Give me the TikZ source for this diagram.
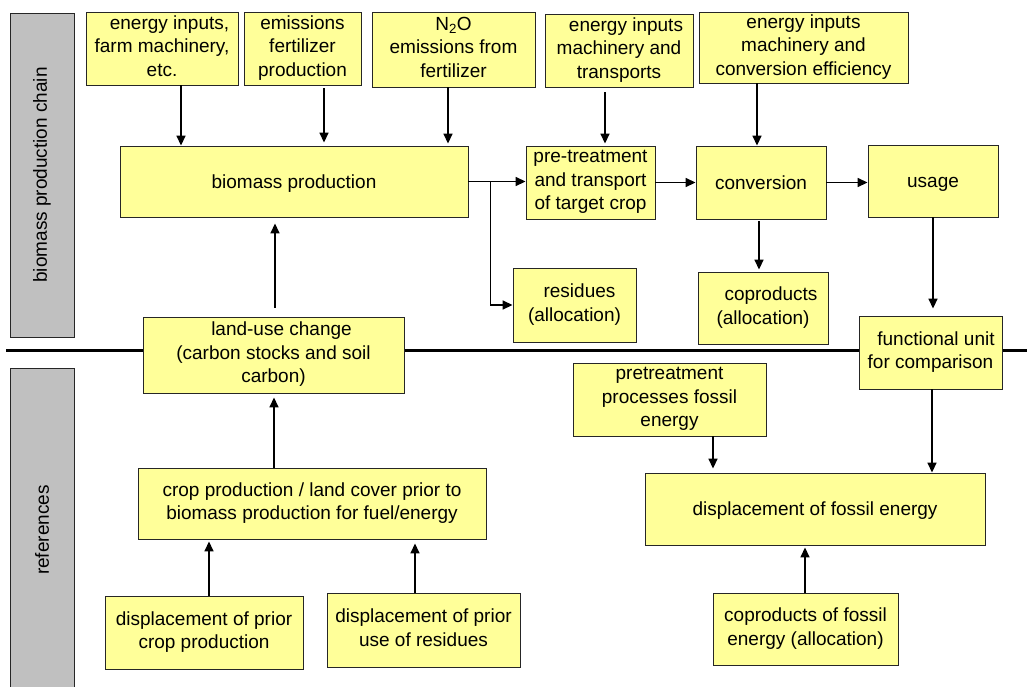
\documentclass[tikz,border=0pt]{standalone}
\usepackage{fontspec}
\setmainfont{Liberation Sans}
\usetikzlibrary{arrows.meta}
\definecolor{boxyellow}{HTML}{FFFF99}
\definecolor{bargray}{HTML}{C0C0C0}
\newcommand{\fs}{\fontsize{19}{23.5}\selectfont}
\newcommand{\mystrut}{\rule[-5pt]{0pt}{23pt}}
\tikzset{
  box/.style={draw=black!85, fill=boxyellow, line width=0.9pt, inner sep=0pt, align=center, font=\fs,
    execute at begin node=\mystrut, execute at end node=\mystrut},
  bar/.style={draw=black!85, fill=bargray, line width=0.9pt},
  bartext/.style={rotate=90, font=\fs, inner sep=0pt},
  arr/.style={line width=1.6pt, -{Triangle[length=10pt,width=9pt]}},
  sep/.style={line width=3pt}
}
\begin{document}
\begin{tikzpicture}[x=1pt,y=-1pt]
\useasboundingbox (0,0) rectangle (1027,686);
% separator line
\draw[sep] (6,350) -- (1027,350);
% gray side bars
\draw[bar] (10,13) rectangle (74,337);
\draw[bar] (10,368) rectangle (74,692);
\node[bartext] (lab1) at (42,175) {biomass production chain};
\node[bartext] (lab2) at (42,530) {references};
% boxes
\node[box, minimum width=152pt, minimum height=73pt] (ei) at (162,48.5) {\hspace*{15pt}energy inputs,\\farm machinery,\\etc.};
\node[box, minimum width=117pt, minimum height=73pt] (em) at (302.5,48.5) {emissions\\fertilizer\\production};
\node[box, minimum width=163pt, minimum height=75pt] (n2o) at (453.5,49.5) {N\textsubscript{2}O\\emissions from\\fertilizer};
\node[box, minimum width=148pt, minimum height=73pt] (tr) at (619,50.5) {\hspace*{14pt}energy inputs\\machinery and\\transports};
\node[box, minimum width=209pt, minimum height=71pt] (eff) at (803.5,47.5) {energy inputs\\machinery and\\conversion efficiency};
\node[box, minimum width=348pt, minimum height=71pt] (bp) at (294,181.5) {biomass production};
\node[box, minimum width=129pt, minimum height=73pt] (pt) at (590.5,182.5) {pre-treatment\\and transport\\of target crop};
\node[box, minimum width=130pt, minimum height=73pt] (conv) at (761,182.5) {conversion};
\node[box, minimum width=130pt, minimum height=72pt] (us) at (933,181) {usage};
\node[box, minimum width=123pt, minimum height=74pt] (res) at (574.5,305) {\hspace*{10pt}residues\\(allocation)};
\node[box, minimum width=130pt, minimum height=72pt] (cop) at (763,308) {\hspace*{16pt}coproducts\\(allocation)};
\node[box, minimum width=261pt, minimum height=76pt] (lu) at (273.5,355) {\hspace*{16pt}land-use change\\(carbon stocks and soil\\carbon)};
\node[box, minimum width=143pt, minimum height=73pt] (fu) at (930.5,352.5) {\hspace*{11pt}functional unit\\for comparison};
\node[box, minimum width=193pt, minimum height=73pt] (ppf) at (669.5,399.5) {pretreatment\\processes fossil\\energy};
\node[box, minimum width=348pt, minimum height=71pt] (crop) at (312,503.5) {crop production / land cover prior to\\biomass production for fuel/energy};
\node[box, minimum width=340pt, minimum height=72pt] (dfe) at (815,509) {displacement of fossil energy};
\node[box, minimum width=198pt, minimum height=73pt] (dpc) at (204,632.5) {displacement of prior\\crop production};
\node[box, minimum width=193pt, minimum height=74pt] (dpr) at (423.5,630) {displacement of prior\\use of residues};
\node[box, minimum width=185pt, minimum height=72pt] (cfe) at (805.5,629) {coproducts of fossil\\energy (allocation)};
% connectors: top inputs
\draw[arr] ([xshift=19pt]ei.south) -- ([xshift=19pt]ei.south |- bp.north);
\draw[arr, shorten <=3pt, shorten >=3pt] ([xshift=21.5pt]em.south) -- ([xshift=21.5pt]em.south |- bp.north);
\draw[arr, shorten >=2pt] ([xshift=-5.5pt]n2o.south) -- ([xshift=-5.5pt]n2o.south |- bp.north);
\draw[arr, shorten <=5pt, shorten >=2pt] ([xshift=-14pt]tr.south) -- ([xshift=-14pt]tr.south |- pt.north);
\draw[arr] ([xshift=-46.5pt]eff.south) -- ([xshift=-46.5pt]eff.south |- conv.north);
% main chain
\draw[arr] (bp.east) -- (bp.east -| pt.west);
\draw[arr] ([xshift=22pt]bp.east) |- (res.west);
\draw[arr] (pt.east) -- (conv.west);
\draw[arr] (conv.east) -- (conv.east -| us.west);
\draw[arr, shorten <=2pt, shorten >=2pt] ([xshift=-2pt]conv.south) -- ([xshift=-2pt]conv.south |- cop.north);
\draw[arr, shorten >=7pt] (us.south) -- (us.south |- fu.north);
% land use
\draw[arr, shorten <=9pt, shorten >=6pt] ([xshift=1.5pt]lu.north) -- ([xshift=1.5pt]lu.north |- bp.south);
\draw[arr, shorten >=4pt] ([xshift=-38pt]crop.north) -- ([xshift=-38pt]crop.north |- lu.south);
\draw[arr, shorten >=2pt] ([xshift=5pt]dpc.north) -- ([xshift=5pt]dpc.north |- crop.south);
\draw[arr, shorten >=4pt] ([xshift=-8.5pt]dpr.north) -- ([xshift=-8.5pt]dpr.north |- crop.south);
% fossil reference
\draw[arr, shorten >=4pt] ([xshift=43.5pt]ppf.south) -- ([xshift=43.5pt]ppf.south |- dfe.north);
\draw[arr] ([xshift=1.5pt]fu.south) -- ([xshift=1.5pt]fu.south |- dfe.north);
\draw[arr, shorten >=2pt] ([xshift=-0.5pt]cfe.north) -- ([xshift=-0.5pt]cfe.north |- dfe.south);
\end{tikzpicture}
\end{document}
